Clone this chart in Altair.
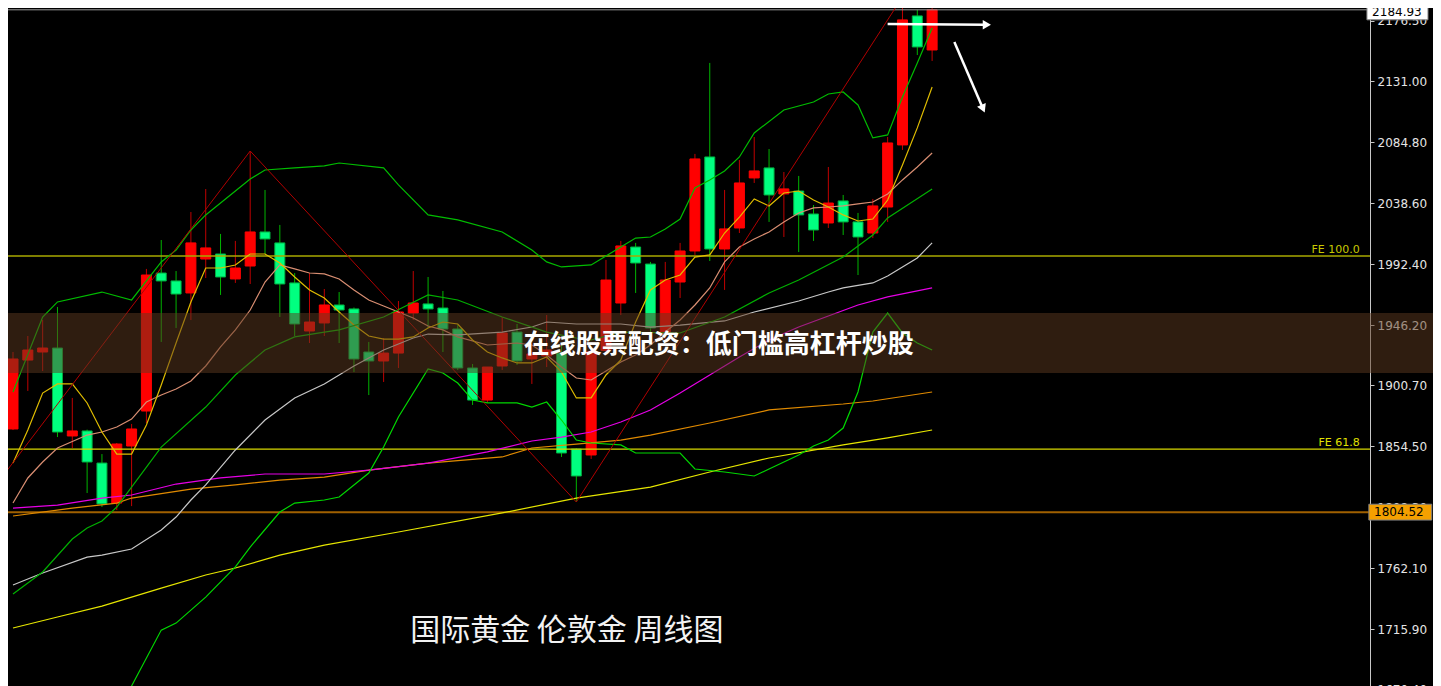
import altair as alt
import pandas as pd

# ---------------- weekly candles (London gold) ----------------
opens = [1867.5, 1919.7, 1925.8, 1928.8, 1862.2, 1866.0, 1841.7, 1811.4, 1854.6, 1881.1,
         1985.6, 1979.6, 1970.5, 1996.2, 2000.0, 1981.1, 1990.9, 2016.7, 2008.4, 1978.1,
         1941.7, 1947.8, 1961.4, 1958.4, 1925.8, 1919.0, 1925.0, 1955.3, 1962.2, 1959.1,
         1943.2, 1913.7, 1889.4, 1915.2, 1940.9, 1920.5, 1922.8, 1925.0, 1852.3, 1847.8,
         1927.0, 1962.9, 2005.3, 1992.4, 1940.2, 1978.8, 2002.3, 2073.5, 2003.8, 2019.7,
         2057.6, 2065.2, 2045.5, 2047.7, 2030.3, 2023.5, 2040.2, 2024.3, 2015.9, 2035.6,
         2082.6, 2180.3, 2154.5]
highs = [1925.8, 1937.9, 1950.0, 1959.9, 1891.0, 1867.0, 1848.5, 1856.9, 1871.3, 1988.7,
         2010.6, 1987.1, 2031.8, 2049.2, 2015.2, 2009.9, 2078.0, 2048.5, 2022.0, 1985.6,
         1985.6, 1973.5, 1971.2, 1959.5, 1933.4, 1936.4, 1964.4, 1987.1, 1982.6, 1972.0,
         1946.2, 1916.7, 1914.4, 1952.3, 1947.0, 1932.6, 1953.8, 1931.1, 1852.8, 1928.8,
         1995.5, 2009.9, 2008.4, 1994.0, 1994.0, 2008.4, 2075.8, 2144.7, 2048.5, 2071.2,
         2088.6, 2079.5, 2062.1, 2059.1, 2037.1, 2065.9, 2044.7, 2031.1, 2041.7, 2088.6,
         2194.7, 2185.0, 2196.0]
lows = [1866.7, 1896.3, 1911.4, 1861.4, 1853.1, 1819.0, 1808.4, 1806.1, 1809.1, 1872.0,
        1933.4, 1944.0, 1950.0, 1981.8, 1969.0, 1978.1, 1977.3, 2000.0, 1952.3, 1937.9,
        1932.6, 1937.9, 1932.6, 1910.6, 1893.2, 1903.1, 1913.7, 1950.0, 1944.0, 1925.8,
        1912.2, 1885.7, 1887.2, 1912.2, 1916.0, 1901.6, 1914.4, 1846.3, 1812.2, 1844.8,
        1925.0, 1953.8, 1970.5, 1940.9, 1934.9, 1966.7, 1999.3, 1994.7, 1972.8, 2015.9,
        2053.8, 2024.3, 2012.9, 2001.5, 2009.9, 2019.7, 2014.4, 1984.1, 2012.1, 2024.3,
        2078.8, 2150.7, 2146.2]
closes = [1920.5, 1927.3, 1928.8, 1865.2, 1866.0, 1842.5, 1810.7, 1856.1, 1867.5, 1984.1,
          1979.6, 1969.7, 2008.4, 2004.6, 1982.6, 1989.4, 2016.7, 2011.4, 1977.3, 1947.0,
          1948.5, 1961.4, 1957.6, 1920.5, 1919.0, 1925.0, 1956.1, 1962.9, 1958.4, 1943.2,
          1913.7, 1889.4, 1914.4, 1940.2, 1919.0, 1924.3, 1927.3, 1849.3, 1831.9, 1926.0,
          1980.3, 2006.1, 1993.2, 1944.0, 1980.3, 2002.3, 2072.0, 2003.8, 2019.0, 2053.8,
          2062.9, 2044.7, 2049.3, 2029.6, 2018.2, 2038.6, 2024.3, 2012.9, 2036.4, 2084.1,
          2177.3, 2156.8, 2184.93]

# ---------------- indicator lines (bar index, value) ----------------
bb_up_i = [0, 2, 3, 6, 8, 9, 10, 11, 12, 13, 16, 17, 19, 21, 22, 25, 26, 28, 30, 33, 35, 36,
           37, 39, 41, 42, 43, 44, 45, 46, 47, 48, 49, 50, 52, 54, 55, 56, 57, 58, 59, 60, 61, 62]
bb_up_v = [1895.5, 1952.3, 1963.7, 1971.2, 1965.2, 1979.6, 1994.0, 2003.0, 2018.2, 2029.6,
           2056.8, 2063.6, 2065.2, 2066.7, 2068.9, 2065.2, 2052.3, 2029.6, 2025.8, 2016.7,
           2003.0, 1994.0, 1990.2, 1991.7, 2005.3, 2012.1, 2012.9, 2019.0, 2026.5, 2050.0,
           2056.1, 2062.9, 2073.5, 2091.7, 2109.1, 2115.1, 2121.2, 2122.7, 2112.9, 2087.9,
           2090.2, 2118.9, 2144.7, 2171.2]
bb_mid_i = [0, 2, 4, 5, 6, 7, 10, 13, 15, 17, 19, 21, 22, 25, 28, 30, 33, 36, 38, 39, 41, 45,
            48, 51, 53, 56, 58, 59, 62]
bb_mid_v = [1742.5, 1759.2, 1784.2, 1792.5, 1797.8, 1808.4, 1853.8, 1884.1, 1908.4, 1927.3,
            1937.2, 1940.9, 1942.5, 1952.3, 1969.0, 1965.2, 1952.3, 1940.9, 1936.4, 1934.9,
            1940.9, 1940.2, 1952.3, 1970.5, 1980.3, 1997.7, 2014.4, 2027.3, 2049.3]
bb_low_i = [6, 7, 8, 10, 11, 13, 15, 16, 18, 19, 21, 22, 24, 25, 26, 28, 29, 30, 31, 32, 34, 35,
            36, 37, 38, 39, 41, 42, 45, 46, 48, 50, 51, 53, 54, 55, 56, 57, 58, 59, 60, 61, 62]
bb_low_v = [1628.9, 1650.9, 1672.8, 1715.2, 1720.5, 1740.2, 1763.0, 1778.1, 1804.6, 1811.4,
            1813.7, 1816.0, 1834.1, 1853.8, 1876.6, 1912.9, 1909.9, 1902.3, 1889.4, 1887.2,
            1887.2, 1884.1, 1887.9, 1874.3, 1859.1, 1856.9, 1855.4, 1849.3, 1849.3, 1837.2,
            1834.9, 1831.9, 1837.2, 1847.8, 1854.6, 1859.1, 1868.2, 1895.5, 1940.9, 1955.3,
            1940.2, 1932.6, 1927.3]
ma_fast_v = [1841.7, 1866.7, 1894.7, 1901.6, 1901.6, 1887.2, 1865.2, 1848.5, 1848.5, 1870.5,
             1900.8, 1932.6, 1963.7, 1989.4, 1989.4, 1991.7, 2000.0, 2000.0, 1993.2, 1982.6,
             1972.8, 1966.7, 1956.1, 1946.2, 1937.9, 1935.6, 1935.6, 1937.2, 1944.0, 1948.5,
             1947.0, 1934.9, 1925.8, 1921.3, 1917.5, 1917.5, 1922.0, 1910.6, 1891.0, 1891.0,
             1908.4, 1919.7, 1948.5, 1972.8, 1980.3, 1984.1, 1997.7, 1999.3, 2015.9, 2028.0,
             2041.7, 2036.4, 2046.2, 2047.7, 2040.9, 2035.6, 2029.6, 2025.0, 2026.5, 2040.9,
             2067.4, 2095.5, 2126.5]
ma_mid_i = [0, 1, 2, 3, 5, 6, 7, 8, 9, 10, 11, 12, 13, 14, 15, 16, 17, 18, 19, 20, 21, 22, 23,
            24, 25, 26, 27, 28, 29, 30, 32, 34, 35, 36, 37, 38, 39, 40, 41, 42, 43, 44, 45, 46,
            47, 48, 49, 50, 51, 52, 53, 54, 55, 56, 57, 58, 59, 60, 61, 62]
ma_mid_v = [1811.4, 1830.4, 1842.5, 1853.1, 1862.9, 1865.2, 1869.0, 1875.0, 1887.9, 1893.2,
            1897.8, 1903.8, 1915.2, 1929.6, 1942.5, 1957.6, 1978.8, 1991.7, 1988.7, 1985.6,
            1984.9, 1981.1, 1972.8, 1965.2, 1960.6, 1956.1, 1951.5, 1945.5, 1942.5, 1937.2,
            1931.1, 1932.6, 1931.1, 1923.5, 1914.4, 1906.1, 1904.6, 1911.4, 1918.2, 1923.5,
            1931.1, 1940.9, 1950.0, 1961.4, 1974.3, 1994.0, 2005.3, 2011.4, 2016.7, 2024.3,
            2031.1, 2034.9, 2035.6, 2036.4, 2037.9, 2039.4, 2045.5, 2056.1, 2065.9, 2076.5]
ma_gray_i = [0, 2, 5, 6, 8, 10, 11, 12, 13, 15, 17, 19, 21, 23, 25, 27, 28, 30, 33, 35, 36, 38,
             41, 43, 45, 48, 50, 53, 55, 56, 58, 59, 61, 62]
ma_gray_v = [1749.3, 1758.4, 1770.5, 1772.0, 1776.6, 1791.0, 1800.8, 1813.7, 1825.1, 1851.6,
             1874.3, 1891.0, 1901.6, 1915.2, 1927.3, 1936.4, 1939.4, 1938.7, 1940.9, 1944.7,
             1948.5, 1947.0, 1947.0, 1944.7, 1946.2, 1949.3, 1956.1, 1964.4, 1971.2, 1974.3,
             1978.1, 1983.4, 1997.0, 2008.4]
ma_mag_i = [0, 3, 6, 8, 11, 14, 17, 21, 24, 28, 32, 35, 37, 39, 41, 43, 45, 47, 49, 51, 53, 55,
            57, 59, 62]
ma_mag_v = [1807.6, 1809.9, 1815.2, 1817.5, 1825.8, 1830.4, 1833.4, 1833.4, 1836.4, 1841.7,
            1850.1, 1858.4, 1861.4, 1865.2, 1872.8, 1881.9, 1894.7, 1908.4, 1922.0, 1934.9,
            1944.7, 1953.1, 1961.4, 1967.5, 1974.3]
ma_org_i = [0, 4, 7, 8, 12, 15, 18, 21, 24, 28, 33, 35, 38, 41, 43, 47, 51, 56, 58, 62]
ma_org_v = [1801.6, 1807.6, 1811.4, 1815.2, 1822.0, 1825.1, 1828.8, 1831.1, 1836.4, 1841.7,
            1846.3, 1853.1, 1856.1, 1859.1, 1862.9, 1872.0, 1881.9, 1886.4, 1888.7, 1895.5]
ma_slow_i = [0, 3, 6, 10, 13, 15, 18, 21, 26, 33, 38, 43, 47, 51, 56, 59, 62]
ma_slow_v = [1716.8, 1725.1, 1733.4, 1747.0, 1756.9, 1762.2, 1772.0, 1779.6, 1789.5, 1803.9,
             1815.2, 1823.5, 1834.9, 1845.5, 1855.4, 1860.7, 1866.7]
zig_i = [-1, 16, 38, 60]
zig_v = [1827.3, 2078.0, 1812.2, 2194.7]

# horizontal levels
level_prices = [2184.93, 1998.5, 1852.3, 1804.52]
level_colors = ["#9a9a9a", "#a8a800", "#d8d800", "#a06000"]
level_widths = [1, 1.6, 1.2, 2]
fe_labels = ["FE 100.0", "FE 61.8"]
fe_prices = [1998.5, 1852.3]
fe_colors = ["#c8c800", "#e0e000"]

# price tags on the axis
tag_prices = [2184.93, 1804.52]
tag_texts = ["2184.93", "1804.52"]
tag_fill = ["#ffffff", "#f5a000"]
tag_shift = [-1.6, 0.0]   # small downward nudge of the top tag so it stays inside the page

tick_values = [2176.5, 2131.0, 2084.8, 2038.6, 1992.4, 1946.2, 1900.7, 1854.5, 1808.3,
               1762.1, 1715.9, 1670.4]

# drawn arrows (bar index, price)
arrow_x0 = [59.0, 63.5]
arrow_y0 = [2174.2, 2160.6]
arrow_x1 = [65.6, 65.4]
arrow_y1 = [2173.6, 2111.0]
arrow_angle = [90, 156]

banner_text = "在线股票配资：低门槛高杠杆炒股"
caption_text = "国际黄金 伦敦金 周线图"

# ---------------- chart ----------------
X_DOMAIN = [0, 91.2]
Y_DOMAIN = [1656.2, 2186.3]
xs = alt.Scale(domain=X_DOMAIN, nice=False, zero=False)
ys = alt.Scale(domain=Y_DOMAIN, nice=False, zero=False)
yax = alt.Axis(orient="right", values=tick_values, format=".2f", title=None, grid=False,
               domainColor="#c8c8c8", domainWidth=1, tickColor="#c8c8c8", tickSize=4,
               labelColor="#e4e4e4", labelFont="DejaVu Sans", labelFontSize=12,
               labelPadding=3, labelFlush=False, labelOverlap=False)


def X(f="idx"):
    return alt.X(f + ":Q", scale=xs, axis=None)


def Y(f):
    return alt.Y(f + ":Q", scale=ys, axis=yax)


candles = pd.DataFrame({"idx": list(range(len(opens))), "open": opens, "high": highs,
                        "low": lows, "close": closes})
candles["dir"] = ["up" if c >= o else "down" for o, c in zip(opens, closes)]

layers = []

wicks = alt.Chart(candles).mark_rule(strokeWidth=1).encode(
    x=X(), y=Y("low"), y2="high",
    color=alt.Color("dir:N", scale=alt.Scale(domain=["up", "down"], range=["#c00000", "#00b400"]),
                    legend=None))
bodies = alt.Chart(candles).mark_bar(size=10, strokeWidth=1).encode(
    x=X(), y=Y("open"), y2="close",
    fill=alt.Fill("dir:N", scale=alt.Scale(domain=["up", "down"], range=["#ff0000", "#00ff80"]),
                  legend=None),
    stroke=alt.Stroke("dir:N", scale=alt.Scale(domain=["up", "down"], range=["#ff0000", "#00b040"]),
                      legend=None))
layers += [wicks, bodies]

for p, c, w in zip(level_prices, level_colors, level_widths):
    layers.append(alt.Chart(pd.DataFrame({"v": [p]})).mark_rule(color=c, strokeWidth=w)
                  .encode(y=Y("v")))


def line(ix, vals, color, width=1.2):
    df = pd.DataFrame({"idx": ix, "v": vals})
    return alt.Chart(df).mark_line(color=color, strokeWidth=width).encode(x=X(), y=Y("v"))


layers += [
    line(ma_slow_i, ma_slow_v, "#e6e600"),
    line(ma_org_i, ma_org_v, "#e08a00"),
    line(ma_mag_i, ma_mag_v, "#e600e6"),
    line(ma_gray_i, ma_gray_v, "#c8c8c8"),
    line(ma_mid_i, ma_mid_v, "#d98e72"),
    line(list(range(len(ma_fast_v))), ma_fast_v, "#e0bd00"),
    line(bb_low_i, bb_low_v, "#00d800"),
    line(bb_mid_i, bb_mid_v, "#00b000"),
    line(bb_up_i, bb_up_v, "#00bc00"),
    line(zig_i, zig_v, "#b00000", 1),
]

arrows = pd.DataFrame({"x0": arrow_x0, "y0": arrow_y0, "x1": arrow_x1, "y1": arrow_y1,
                       "ang": arrow_angle})
layers.append(alt.Chart(arrows).mark_rule(color="#ffffff", strokeWidth=2.5).encode(
    x=X("x0"), x2="x1", y=Y("y0"), y2="y1"))
layers.append(alt.Chart(arrows).mark_point(shape="triangle", filled=True, size=90,
                                           color="#ffffff", opacity=1).encode(
    x=X("x1"), y=Y("y1"), angle=alt.Angle("ang:Q", scale=None)))

# FE labels
fe = pd.DataFrame({"idx": [90.85, 90.85], "v": fe_prices, "t": fe_labels, "c": fe_colors})
layers.append(alt.Chart(fe).mark_text(align="right", baseline="bottom", dy=-1, font="DejaVu Sans",
                                      fontSize=11).encode(
    x=X(), y=Y("v"), text="t:N", color=alt.Color("c:N", scale=None)))

# banner
banner = pd.DataFrame({"x0": [-2], "x1": [100], "y0": [1955.3], "y1": [1909.9]})
layers.append(alt.Chart(banner).mark_rect(color="#5e3a20", opacity=0.5).encode(
    x=X("x0"), x2="x1", y=Y("y0"), y2="y1"))
layers.append(alt.Chart(pd.DataFrame({"idx": [47.6], "v": [1931.1], "t": [banner_text]}))
              .mark_text(font="Noto Sans CJK SC", fontWeight="bold", fontSize=26, color="#ffffff",
                         align="center", baseline="middle").encode(x=X(), y=Y("v"), text="t:N"))
layers.append(alt.Chart(pd.DataFrame({"idx": [37.36], "v": [1714.5], "t": [caption_text]}))
              .mark_text(font="Noto Sans CJK SC", fontSize=30, color="#f2f2f2",
                         align="center", baseline="middle").encode(x=X(), y=Y("v"), text="t:N"))

# axis price tags
tags = pd.DataFrame({"x0": [91.33, 91.46], "x1": [95.45, 95.7], "p": tag_prices, "t": tag_texts,
                     "f": tag_fill, "s": tag_shift})
tags["top"] = tags["p"] + tags["s"] + 6.0
tags["bot"] = tags["p"] + tags["s"] - 6.0
tags["mid"] = tags["p"] + tags["s"]
tags["tx"] = tags["x0"] + 0.35
layers.append(alt.Chart(tags).mark_rect(stroke="#808080", strokeWidth=1).encode(
    x=X("x0"), x2="x1", y=Y("top"), y2="bot", fill=alt.Fill("f:N", scale=None)))
layers.append(alt.Chart(tags).mark_text(align="left", baseline="middle", font="DejaVu Sans",
                                        fontSize=12, color="#000000").encode(
    x=X("tx"), y=Y("mid"), text="t:N"))

chart = alt.layer(*layers).properties(
    width=1362, height=700,
    padding={"left": 0, "top": 0, "right": 63, "bottom": 0},
    autosize=alt.AutoSizeParams(type="none"),
).configure(background="#000000").configure_view(strokeWidth=0)

chart.save("out.html", embed_options={"renderer": "svg", "actions": False})
